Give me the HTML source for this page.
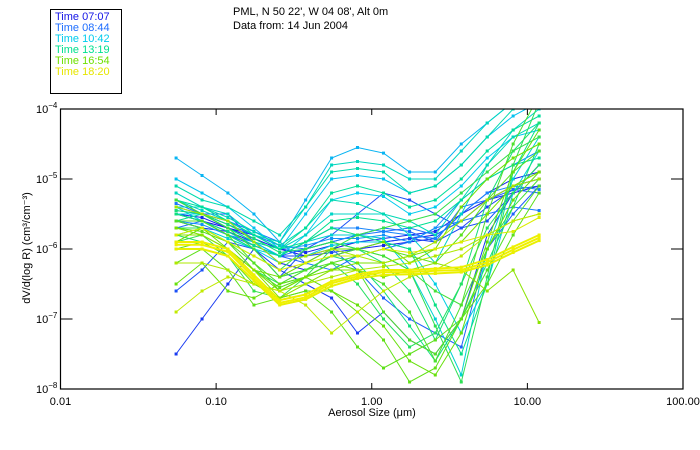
<!DOCTYPE html>
<html><head><meta charset="utf-8">
<style>
html,body{margin:0;padding:0;background:#fff;}
svg{display:block;font-family:"Liberation Sans",sans-serif;}
</style></head>
<body>
<svg id="chart" width="700" height="450" viewBox="0 0 700 450" xmlns="http://www.w3.org/2000/svg">
  <rect x="50.5" y="9.5" width="71" height="84" fill="#fff" stroke="#000" stroke-width="1"/>
  <g font-size="11">
    <text x="55" y="20" fill="#1414e6">Time 07:07</text>
    <text x="55" y="31" fill="#1e6eff">Time 08:44</text>
    <text x="55" y="42" fill="#00ccee">Time 10:42</text>
    <text x="55" y="53" fill="#00e090">Time 13:19</text>
    <text x="55" y="64" fill="#70e000">Time 16:54</text>
    <text x="55" y="75" fill="#e6e600">Time 18:20</text>
  </g>
  <text x="233" y="15" font-size="11">PML, N 50 22', W 04 08', Alt 0m</text>
  <text x="233" y="29" font-size="11">Data from: 14 Jun 2004</text>
  <defs><clipPath id="plotclip"><rect x="60.5" y="109" width="622.5" height="280"/></clipPath></defs>
  <g id="series" clip-path="url(#plotclip)"></g>
  <g id="axes"></g>
  <text x="372" y="416" font-size="11" text-anchor="middle">Aerosol Size (μm)</text>
  <text transform="translate(30,248) rotate(-90)" font-size="11" text-anchor="middle">dV/d(log R) (cm³/cm⁻³)</text>
</svg>
<script>
const xTicks = [0.01, 0.1, 1, 10, 100];
const xTickLabels = ["0.01", "0.10", "1.00", "10.00", "100.00"];
const yTickExps = [-4, -5, -6, -7, -8];
const sizes = [0.0553,0.0812,0.119,0.175,0.256,0.376,0.552,0.810,1.19,1.75,2.56,3.76,5.52,8.10,11.9];
const times = [7.1,7.4,7.8,8.2,8.5,8.7,9.0, 10.2,10.5,10.7,11.0,11.5, 12.5,13.0,13.3,13.8,14.5,15.0, 15.5,16.0,16.3,16.6,16.9,17.2,17.5,17.8, 18.33,18.3,18.25,18.1, 9.5,12.0,14.0,16.2, 7.5,8.0,8.9,9.2,11.8,13.6,14.8,15.8,16.4,17.0,17.6,12.3];
const s01=[-5.5,-5.6,-5.7,-5.8,-6.0,-6.1,-6.0,-5.9,-5.9,-5.85,-5.8,-5.6,-5.3,-5.1,-5.0];
const s02=[-5.6,-5.7,-5.75,-5.9,-6.2,-6.3,-6.1,-6.0,-5.95,-5.9,-5.85,-5.5,-5.2,-5.0,-4.9];
const s03=[-7.5,-7.0,-6.5,-6.0,-6.3,-6.5,-6.7,-7.2,-6.9,-7.3,-7.5,-7.0,-5.8,-5.2,-4.8];
const s04=[-6.6,-6.3,-5.9,-6.0,-6.4,-6.0,-5.8,-5.5,-5.2,-5.3,-5.5,-5.7,-5.6,-5.2,-4.8];
const s05=[-5.4,-5.5,-5.5,-5.9,-6.1,-6.2,-6.0,-6.3,-6.7,-7.0,-7.2,-7.4,-6.0,-5.5,-5.1];
const s06=[-5.7,-5.6,-5.8,-5.95,-6.1,-6.0,-5.9,-5.8,-5.7,-5.75,-5.9,-5.4,-5.3,-5.15,-5.2];
const s07=[-5.3,-5.5,-5.6,-5.75,-5.9,-6.2,-6.3,-6.1,-6.0,-5.9,-5.7,-5.6,-5.5,-5.4,-5.45];
const s08=[-4.7,-4.95,-5.2,-5.5,-5.9,-5.3,-4.7,-4.55,-4.63,-4.9,-4.9,-4.5,-4.2,-3.9,-3.7];
const s09=[-5.0,-5.2,-5.4,-5.7,-6.0,-5.5,-5.0,-4.95,-5.0,-5.2,-5.1,-4.8,-4.4,-4.1,-3.9];
const s10=[-5.5,-5.5,-5.7,-5.9,-6.1,-5.8,-5.3,-5.2,-5.25,-5.5,-5.4,-5.1,-4.7,-4.4,-4.3];
const s11=[-5.4,-5.6,-5.8,-6.0,-6.2,-6.1,-5.95,-5.9,-5.9,-6.0,-6.5,-7.2,-6.5,-5.2,-4.6];
const s12=[-5.8,-5.7,-5.85,-6.0,-6.1,-5.9,-5.8,-5.8,-5.85,-6.3,-7.0,-7.8,-6.0,-5.0,-4.4];
const s13=[-5.1,-5.3,-5.4,-5.6,-5.8,-5.4,-4.9,-4.85,-4.9,-5.2,-5.1,-4.8,-4.4,-4.0,-3.8];
const s14=[-5.3,-5.4,-5.6,-5.8,-6.0,-5.7,-5.2,-5.1,-5.2,-5.4,-5.3,-5.0,-4.6,-4.3,-4.1];
const s15=[-5.6,-5.5,-5.7,-5.9,-6.0,-5.9,-5.6,-5.55,-5.6,-5.7,-5.6,-5.3,-5.0,-4.8,-4.7];
const s16=[-5.5,-5.6,-5.8,-6.0,-6.4,-6.3,-6.1,-6.2,-6.6,-7.1,-7.6,-7.0,-6.2,-5.4,-4.5];
const s17=[-5.8,-5.9,-6.0,-6.3,-6.5,-6.4,-6.2,-6.5,-7.0,-7.4,-7.2,-6.5,-5.7,-5.2,-4.8];
const s18=[-5.9,-5.8,-6.1,-6.6,-6.7,-6.4,-6.0,-5.8,-5.7,-5.6,-5.5,-5.2,-4.9,-4.6,-4.4];
const s19=[-5.3,-5.5,-5.7,-6.0,-6.4,-6.3,-6.1,-6.0,-6.1,-6.3,-6.6,-6.8,-6.0,-5.4,-5.0];
const s20=[-5.6,-5.6,-5.8,-6.2,-6.6,-6.4,-6.2,-6.3,-6.9,-7.3,-7.5,-7.0,-6.3,-5.6,-5.1];
const s21=[-6.2,-6.0,-6.3,-6.8,-6.7,-6.6,-6.9,-7.4,-7.7,-7.5,-7.3,-7.0,-6.5,-5.8,-5.2];
const s22=[-6.5,-6.2,-6.6,-6.7,-6.5,-6.4,-6.6,-6.8,-7.1,-7.6,-7.8,-7.2,-6.0,-5.3,-4.9];
const s23=[-5.9,-5.7,-6.0,-6.3,-6.4,-6.2,-6.0,-6.0,-5.9,-6.2,-6.0,-5.4,-5.0,-4.7,-4.5];
const s24=[-5.8,-5.8,-6.0,-6.3,-6.7,-6.5,-6.3,-6.3,-6.4,-6.3,-6.2,-6.3,-6.6,-6.3,-7.05];
const s25=[-5.4,-5.5,-5.6,-5.9,-6.2,-6.1,-6.0,-6.1,-6.2,-6.1,-5.9,-5.6,-5.3,-5.1,-5.0];
const s26=[-6.9,-6.6,-6.4,-6.5,-6.6,-6.8,-7.2,-6.9,-6.6,-6.4,-6.3,-6.1,-5.8,-5.6,-5.5];
const s27=[-5.94,-5.94,-6.04,-6.41,-6.77,-6.69,-6.49,-6.39,-6.33,-6.33,-6.31,-6.3,-6.19,-6.01,-5.84];
const s28=[-5.9,-5.9,-6.0,-6.37,-6.73,-6.65,-6.46,-6.36,-6.3,-6.3,-6.28,-6.26,-6.15,-5.97,-5.8];
const s29=[-6.0,-6.0,-6.1,-6.45,-6.8,-6.72,-6.53,-6.42,-6.37,-6.36,-6.35,-6.33,-6.23,-6.05,-5.88];
const s30=[-5.8,-5.7,-5.9,-6.1,-6.3,-6.2,-6.1,-6.1,-6.0,-6.05,-6.0,-5.9,-5.8,-5.75,-5.55];
const s31=[-5.6,-5.65,-5.8,-5.9,-6.0,-5.95,-5.85,-5.85,-5.8,-5.9,-5.7,-5.3,-5.0,-4.8,-4.6];
const s32=[-5.2,-5.4,-5.5,-5.8,-5.9,-5.4,-4.8,-4.75,-4.8,-5.0,-5.0,-4.6,-4.2,-3.9,-3.7];
const s33=[-5.45,-5.5,-5.65,-5.85,-6.05,-6.0,-5.9,-6.0,-6.2,-6.6,-7.3,-6.5,-5.3,-4.6,-4.2];
const s34=[-5.7,-5.75,-5.9,-6.3,-6.55,-6.4,-6.2,-6.1,-6.0,-6.1,-6.2,-5.8,-5.3,-4.9,-4.6];
const s35=[-5.5,-5.55,-5.7,-5.85,-6.0,-6.05,-5.95,-5.9,-5.85,-5.8,-5.75,-5.5,-5.3,-5.2,-5.1];
const s36=[-5.6,-5.6,-5.75,-5.95,-6.1,-6.1,-6.05,-6.0,-5.9,-5.85,-5.9,-5.7,-5.4,-5.15,-5.1];
const s37=[-5.35,-5.5,-5.65,-5.8,-5.95,-6.0,-5.9,-5.8,-5.75,-5.7,-5.8,-5.6,-5.3,-5.1,-5.0];
const s38=[-5.45,-5.5,-5.6,-5.9,-6.1,-5.9,-5.7,-5.7,-5.75,-5.8,-5.85,-5.5,-5.2,-5.1,-5.15];
const s39=[-5.3,-5.45,-5.6,-5.8,-6.0,-5.8,-5.5,-5.5,-5.5,-5.8,-6.2,-5.5,-4.8,-4.3,-4.0];
const s40=[-5.5,-5.6,-5.75,-5.95,-6.1,-5.9,-5.7,-5.8,-5.9,-6.0,-6.8,-7.5,-6.5,-4.9,-4.2];
const s41=[-5.7,-5.7,-5.9,-6.1,-6.3,-6.0,-5.9,-6.0,-6.1,-6.3,-7.1,-7.9,-6.4,-4.8,-3.9];
const s42=[-5.6,-5.7,-5.9,-6.2,-6.5,-6.3,-6.2,-6.3,-6.5,-6.9,-7.6,-6.8,-5.5,-4.5,-3.8];
const s43=[-6.0,-5.9,-6.1,-6.5,-6.7,-6.6,-6.6,-6.9,-7.3,-7.9,-7.7,-7.0,-5.9,-4.9,-4.3];
const s44=[-5.7,-5.8,-6.0,-6.3,-6.6,-6.4,-6.3,-6.2,-6.2,-6.1,-6.0,-5.9,-5.5,-5.1,-4.9];
const s45=[-6.2,-6.2,-6.3,-6.5,-6.6,-6.5,-6.4,-6.3,-6.25,-6.2,-6.1,-6.0,-5.8,-5.6,-5.5];
const s46=[-5.4,-5.4,-5.55,-5.75,-5.95,-5.7,-5.3,-5.35,-5.5,-5.6,-5.8,-5.3,-4.8,-4.4,-4.2];
const seriesList=[s01,s02,s03,s04,s05,s06,s07,s08,s09,s10,s11,s12,s13,s14,s15,s16,s17,s18,s19,s20,s21,s22,s23,s24,s25,s26,s27,s28,s29,s30,s31,s32,s33,s34,s35,s36,s37,s38,s39,s40,s41,s42,s43,s44,s45,s46];

const NS="http://www.w3.org/2000/svg";
const X0=60.5, X1=683, Y0=109, Y1=389;
function xPos(v){return X0+(Math.log10(v)+2)/4*(X1-X0);}
function yPos(e){return Y0+(-4-e)/4*(Y1-Y0);}
const stops=[[7.12,[20,20,230]],[8.73,[30,110,255]],[10.7,[0,204,238]],[13.32,[0,224,144]],[16.9,[112,224,0]],[18.33,[240,240,0]]];
function colorFor(t){
  if(t<=stops[0][0])return 'rgb('+stops[0][1]+')';
  for(let i=1;i<stops.length;i++){
    if(t<=stops[i][0]){const a=stops[i-1],b=stops[i];const f=(t-a[0])/(b[0]-a[0]);
      const c=a[1].map((v,k)=>Math.round(v+(b[1][k]-v)*f));return 'rgb('+c+')';}
  }
  return 'rgb('+stops[stops.length-1][1]+')';
}
const g=document.getElementById('series');
const order=seriesList.map((s,i)=>i).sort((a,b)=>times[a]-times[b]);
order.forEach(i=>{
  const s=seriesList[i];
  const col=colorFor(times[i]);
  const thick=(i>=26&&i<=28);
  const pl=document.createElementNS(NS,'polyline');
  
  
  pl.setAttribute('points',s.map((e,j)=>xPos(sizes[j]).toFixed(1)+','+yPos(e).toFixed(1)).join(' '));
  pl.setAttribute('fill','none');pl.setAttribute('stroke',col);pl.setAttribute('stroke-width',thick?2:1);
  g.appendChild(pl);
  s.forEach((e,j)=>{
    const r=document.createElementNS(NS,'rect');
    
    
    r.setAttribute('x',xPos(sizes[j])-1.5);r.setAttribute('y',yPos(e)-1.5);
    r.setAttribute('width',3);r.setAttribute('height',3);r.setAttribute('fill',col);
    g.appendChild(r);
  });
});
const ax=document.getElementById('axes');
const frame=document.createElementNS(NS,'rect');


frame.setAttribute('x',X0);frame.setAttribute('y',Y0);frame.setAttribute('width',X1-X0);frame.setAttribute('height',Y1-Y0);
frame.setAttribute('fill','none');frame.setAttribute('stroke','#000');frame.setAttribute('stroke-width',1.2);
ax.appendChild(frame);
xTicks.forEach((v,i)=>{
  const x=xPos(v);
  [[Y1,Y1-6],[Y0,Y0+6]].forEach(p=>{
    const l=document.createElementNS(NS,'line');
    
    
    l.setAttribute('x1',x);l.setAttribute('x2',x);l.setAttribute('y1',p[0]);l.setAttribute('y2',p[1]);
    l.setAttribute('stroke','#000');ax.appendChild(l);
  });
  const t=document.createElementNS(NS,'text');
  
  
  t.setAttribute('x',x);t.setAttribute('y',405);t.setAttribute('font-size','11');t.setAttribute('text-anchor','middle');
  t.textContent=xTickLabels[i];ax.appendChild(t);
});
yTickExps.forEach(e=>{
  const y=yPos(e);
  const l=document.createElementNS(NS,'line');
  
  
  l.setAttribute('x1',X0);l.setAttribute('x2',X0+12);l.setAttribute('y1',y);l.setAttribute('y2',y);
  l.setAttribute('stroke','#000');ax.appendChild(l);
  const r=document.createElementNS(NS,'line');
  
  
  r.setAttribute('x1',X1);r.setAttribute('x2',X1-12);r.setAttribute('y1',y);r.setAttribute('y2',y);
  r.setAttribute('stroke','#000');ax.appendChild(r);
  const t=document.createElementNS(NS,'text');
  
  
  t.setAttribute('x',36);t.setAttribute('y',y+4);t.setAttribute('font-size','11');
  t.textContent='10';
  const sp=document.createElementNS(NS,'tspan');
  sp.setAttribute('dy','-5');sp.setAttribute('font-size','8');sp.textContent=String(e).replace('-','−');
  t.appendChild(sp);ax.appendChild(t);
});
</script>
</body></html>
